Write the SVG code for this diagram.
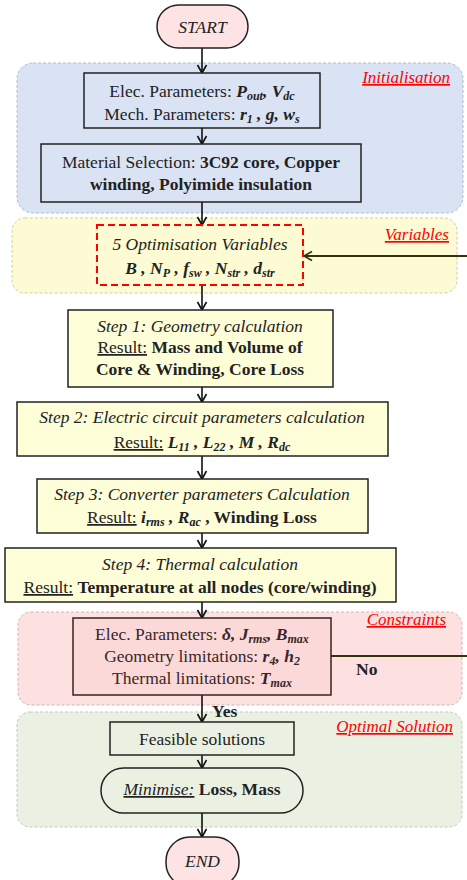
<svg xmlns="http://www.w3.org/2000/svg" width="467" height="880" viewBox="0 0 467 880" font-family="'Liberation Serif', 'DejaVu Serif', serif">
<defs>
<marker id="arr" markerUnits="userSpaceOnUse" markerWidth="12" markerHeight="12" viewBox="0 0 12 12" refX="10" refY="6" orient="auto">
<path d="M2,1.5 L10,6 L2,10.5" fill="none" stroke="#111" stroke-width="1.6"/>
</marker>
<marker id="arr2" markerUnits="userSpaceOnUse" markerWidth="12" markerHeight="12" viewBox="0 0 12 12" refX="10" refY="6" orient="auto">
<path d="M2,1.5 L10,6 L2,10.5" fill="none" stroke="#33330c" stroke-width="1.6"/>
</marker>
</defs>
<style>
text{font-family:Liberation Serif, DejaVu Serif, serif;font-size:17.5px;fill:#222;}
.c{text-anchor:middle;}
.it{font-style:italic;}
.b{font-weight:bold;}
.m{font-weight:bold;font-style:italic;}
.s{font-size:12px;font-weight:bold;font-style:italic;}
.lbl{font-style:italic;font-size:17px;fill:#ff0000;text-decoration:underline;text-anchor:end;}
.u{text-decoration:underline;}
.box{stroke:#222;stroke-width:1.5;}
.reg{stroke-width:1;stroke-dasharray:3 2;}
.con{fill:none;stroke:#111;stroke-width:1.6;}
</style>

<g id="region-init">
<rect x="17" y="63" width="446" height="150" rx="16" fill="#dae3f3" stroke="#b4bccb" class="reg"/>
<text x="450" y="83" class="lbl">Initialisation</text>
</g>
<g id="region-variables">
<rect x="12" y="218" width="445" height="75" rx="13" fill="#fdfbd3" stroke="#cfcdb0" class="reg"/>
<text x="449" y="240" class="lbl">Variables</text>
</g>
<g id="region-constraints">
<rect x="18" y="612" width="444" height="93" rx="13" fill="#fde0e0" stroke="#cdb8b8" class="reg"/>
<text x="446" y="625" class="lbl">Constraints</text>
</g>
<g id="region-optimal">
<rect x="17" y="712" width="445" height="115" rx="13" fill="#ebf1e2" stroke="#c3cabb" class="reg"/>
<text x="453" y="732" class="lbl">Optimal Solution</text>
</g>

<g id="connectors">
<line x1="202" y1="48" x2="202" y2="73" class="con" marker-end="url(#arr)"/>
<line x1="202" y1="128" x2="202" y2="144" class="con" marker-end="url(#arr)"/>
<line x1="202" y1="202" x2="202" y2="225" class="con" marker-end="url(#arr)"/>
<line x1="202" y1="285" x2="202" y2="310" class="con" marker-end="url(#arr)"/>
<line x1="202" y1="387" x2="202" y2="402" class="con" marker-end="url(#arr)"/>
<line x1="202" y1="456" x2="202" y2="479" class="con" marker-end="url(#arr)"/>
<line x1="202" y1="533" x2="202" y2="548" class="con" marker-end="url(#arr)"/>
<line x1="202" y1="602" x2="202" y2="618" class="con" marker-end="url(#arr)"/>
<line x1="202" y1="695" x2="202" y2="722" class="con" marker-end="url(#arr)"/>
<line x1="202" y1="755" x2="202" y2="768" class="con" marker-end="url(#arr)"/>
<line x1="202" y1="813" x2="202" y2="837" class="con" marker-end="url(#arr)"/>
<path d="M331,656 H480 V256 H304" fill="none" stroke="#33330c" stroke-width="1.8" marker-end="url(#arr2)"/>
<text x="356" y="675" class="b">No</text>
<text x="212" y="717" class="b">Yes</text>
</g>

<g id="start">
<rect x="157" y="5" width="91" height="43" rx="21.5" fill="#fde3e3" class="box"/>
<text x="202.5" y="33" class="c it">START</text>
</g>

<g id="elec-mech-params">
<rect x="84" y="73" width="236" height="55" fill="#dae3f3" class="box"/>
<text x="202" y="97" class="c">Elec. Parameters: <tspan class="m">P</tspan><tspan class="s" dy="3">out</tspan><tspan class="m" dy="-3">, V</tspan><tspan class="s" dy="3">dc</tspan></text>
<text x="202" y="120" class="c">Mech. Parameters: <tspan class="m">r</tspan><tspan class="s" dy="3">1</tspan><tspan class="m" dy="-3"> , g, w</tspan><tspan class="s" dy="3">s</tspan></text>
</g>

<g id="material">
<rect x="41" y="144" width="320" height="58" fill="#dae3f3" class="box"/>
<text x="201" y="168" class="c">Material Selection: <tspan class="b">3C92 core, Copper</tspan></text>
<text x="201" y="190" class="c b">winding, Polyimide insulation</text>
</g>

<g id="variables">
<rect x="97" y="225" width="206" height="60" fill="none" stroke="#ff0000" stroke-width="2" stroke-dasharray="7 4"/>
<text x="200" y="250" class="c it">5 Optimisation Variables</text>
<text x="200" y="274" class="c"><tspan class="m">B , N</tspan><tspan class="s" dy="3">P</tspan><tspan class="m" dy="-3"> , f</tspan><tspan class="s" dy="3">sw</tspan><tspan class="m" dy="-3"> , N</tspan><tspan class="s" dy="3">str</tspan><tspan class="m" dy="-3"> , d</tspan><tspan class="s" dy="3">str</tspan></text>
</g>

<g id="step1">
<rect x="68" y="310" width="265" height="77" fill="#fefed9" class="box"/>
<text x="200" y="332" class="c it">Step 1: Geometry calculation</text>
<text x="200" y="353" class="c"><tspan class="u">Result:</tspan> <tspan class="b">Mass and Volume of</tspan></text>
<text x="200" y="375" class="c b">Core &amp; Winding, Core Loss</text>
</g>

<g id="step2">
<rect x="17" y="402" width="371" height="54" fill="#fefed9" class="box"/>
<text x="202" y="423" class="c it">Step 2: Electric circuit parameters calculation</text>
<text x="202" y="448" class="c"><tspan class="u">Result:</tspan> <tspan class="m">L</tspan><tspan class="s" dy="3">11</tspan><tspan class="m" dy="-3"> , L</tspan><tspan class="s" dy="3">22</tspan><tspan class="m" dy="-3"> , M , R</tspan><tspan class="s" dy="3">dc</tspan></text>
</g>

<g id="step3">
<rect x="37" y="479" width="331" height="54" fill="#fefed9" class="box"/>
<text x="202" y="500" class="c it">Step 3: Converter parameters Calculation</text>
<text x="202" y="523" class="c"><tspan class="u">Result:</tspan> <tspan class="m">i</tspan><tspan class="s" dy="3">rms</tspan><tspan class="m" dy="-3"> , R</tspan><tspan class="s" dy="3">ac</tspan><tspan class="b" dy="-3">  , Winding Loss</tspan></text>
</g>

<g id="step4">
<rect x="5" y="548" width="391" height="54" fill="#fefed9" class="box"/>
<text x="200" y="570" class="c it">Step 4: Thermal calculation</text>
<text x="200" y="593" class="c"><tspan class="u">Result:</tspan> <tspan class="b">Temperature at all nodes (core/winding)</tspan></text>
</g>

<g id="constraints">
<rect x="73" y="618" width="258" height="77" fill="#fbd9d9" stroke="#3c1f1f" stroke-width="1.5"/>
<text x="202" y="640" class="c" style="fill:#3a2626">Elec. Parameters: <tspan class="m">δ, J</tspan><tspan class="s" dy="3">rms</tspan><tspan class="m" dy="-3">, B</tspan><tspan class="s" dy="3">max</tspan></text>
<text x="202" y="662" class="c" style="fill:#3a2626">Geometry limitations: <tspan class="m">r</tspan><tspan class="s" dy="3">4</tspan><tspan class="m" dy="-3">, h</tspan><tspan class="s" dy="3">2</tspan></text>
<text x="202" y="684" class="c" style="fill:#3a2626">Thermal limitations: <tspan class="m">T</tspan><tspan class="s" dy="3">max</tspan></text>
</g>

<g id="feasible">
<rect x="110" y="722" width="184" height="33" fill="#ebf1e2" class="box"/>
<text x="202" y="745" class="c">Feasible solutions</text>
</g>

<g id="minimise">
<rect x="101" y="768" width="202" height="45" rx="22.5" fill="#ebf1e2" class="box"/>
<text x="202" y="795" class="c"><tspan class="it u">Minimise:</tspan>  <tspan class="b">Loss, Mass</tspan></text>
</g>

<g id="end">
<rect x="166" y="837" width="73" height="50" rx="24" fill="#fde3e3" class="box"/>
<text x="202.5" y="867" class="c it">END</text>
</g>
</svg>
